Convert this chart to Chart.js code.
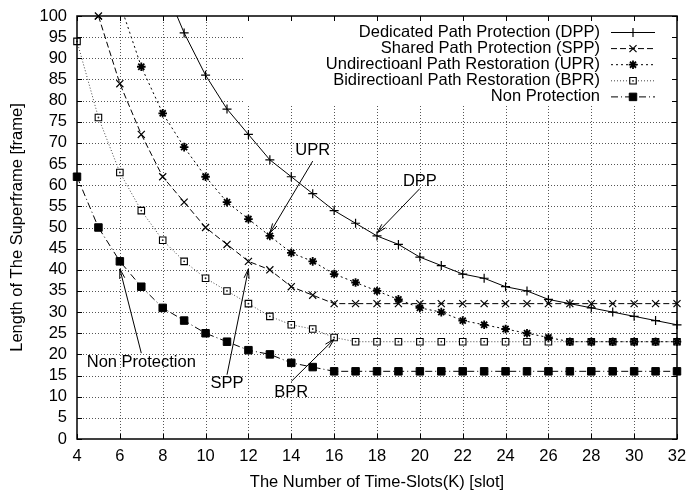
<!DOCTYPE html>
<html>
<head>
<meta charset="utf-8">
<script src="https://cdn.jsdelivr.net/npm/chart.js@4.4.1/dist/chart.umd.min.js"></script>
<style>
html,body{margin:0;padding:0;background:#fff;}
#wrap{width:689px;height:495px;position:relative;}
</style>
</head>
<body>
<div id="wrap"><canvas id="c" width="689" height="495"></canvas></div>
<script>
// ---- data ----
const K = [4,5,6,7,8,9,10,11,12,13,14,15,16,17,18,19,20,21,22,23,24,25,26,27,28,29,30,31,32];
const DPP = [null,null,null,null,108,96,86,78,72,66,62,58,54,51,48,46,43,41,39,38,36,35,33,32,31,30,29,28,27];
const SPP = [125,100,84,72,62,56,50,46,42,40,36,34,32,32,32,32,32,32,32,32,32,32,32,32,32,32,32,32,32];
const UPR = [null,null,103,88,77,69,62,56,52,48,44,42,39,37,35,33,31,30,28,27,26,25,24,23,23,23,23,23,23];
const BPR = [94,76,63,54,47,42,38,35,32,29,27,26,24,23,23,23,23,23,23,23,23,23,23,23,23,23,23,23,23];
const NONP = [62,50,42,36,31,28,25,23,21,20,18,17,16,16,16,16,16,16,16,16,16,16,16,16,16,16,16,16,16];
const SERIES_LABELS = [
  'Dedicated Path Protection (DPP)',
  'Shared Path Protection (SPP)',
  'Undirectioanl Path Restoration (UPR)',
  'Bidirectioanl Path Restoration (BPR)',
  'Non Protection'
];
const X_TITLE = 'The Number of Time-Slots(K) [slot]';
const Y_TITLE = 'Length of The Superframe [frame]';
const X_MIN = 4, X_MAX = 32, X_STEP = 2;
const Y_MIN = 0, Y_MAX = 100, Y_STEP = 5;
// annotation labels with arrows (label text, label position, arrow tail, arrow tip) in data units
const NOTE_TEXT = ['UPR','DPP','Non Protection','SPP','BPR'];
const NOTE_POS  = [[15,68.2],[20,61],[7,18],[11,13.1],[14,11.1]];
const NOTE_TAIL = [[15,65.7],[20,59.2],[7,20.3],[11,15.2],[14,13.6]];
const NOTE_TIP  = [[13,48.7],[18,48.7],[6,40.2],[12,40.2],[16,23.6]];

// ---- styling ----
const FONT = '"Liberation Sans", Arial, Helvetica, sans-serif';
const FS = 16.5;
Chart.defaults.font.family = FONT;
Chart.defaults.font.size = FS;
Chart.defaults.color = '#000';

const toXY = arr => K.map((k,i) => ({x:k, y:arr[i]}));
const STYLES = [
  {dash:[],        color:'#000', pointStyle:'cross',    r:4.5, bg:'#000', bw:1.2, dot:false},
  {dash:[6,3],     color:'#000', pointStyle:'crossRot', r:5,   bg:'#000', bw:1.2, dot:false},
  {dash:[2,3],     color:'#000', pointStyle:'star',     r:4.3, bg:'#000', bw:1.8, dot:false},
  {dash:[1,2],     color:'#444', pointStyle:'rect',     r:4.6, bg:'#fff', bw:1.1, dot:true},
  {dash:[7,3,1,3], color:'#000', pointStyle:'rect',     r:5.3, bg:'#000', bw:1,   dot:false}
];
const SERIES = [DPP, SPP, UPR, BPR, NONP];
const datasets = SERIES.map((arr, i) => ({
  label: SERIES_LABELS[i],
  data: toXY(arr),
  borderColor: STYLES[i].color,
  borderWidth: 1,
  borderDash: STYLES[i].dash,
  pointStyle: STYLES[i].pointStyle,
  pointRadius: STYLES[i].r,
  pointHoverRadius: STYLES[i].r,
  pointBackgroundColor: STYLES[i].bg,
  pointBorderColor: '#000',
  pointBorderWidth: STYLES[i].bw,
  tension: 0,
  fill: false,
  clip: {left: 10, right: 10, top: 0, bottom: 10}
}));

function centerDot(ctx, x, y) {
  ctx.save();
  ctx.fillStyle = '#222';
  ctx.beginPath();
  ctx.arc(x, y, 0.9, 0, Math.PI * 2);
  ctx.fill();
  ctx.restore();
}

function drawMarker(ctx, st, x, y) {
  ctx.save();
  ctx.setLineDash([]);
  ctx.lineWidth = st.bw;
  ctx.strokeStyle = '#000';
  ctx.fillStyle = st.bg;
  if (Chart.helpers && Chart.helpers.drawPoint) {
    Chart.helpers.drawPoint(ctx, {pointStyle: st.pointStyle, radius: st.r, rotation: 0, borderWidth: st.bw}, x, y);
  }
  ctx.restore();
  if (st.dot) centerDot(ctx, x, y);
}

const gnuplotFrame = {
  id: 'gnuplotFrame',
  beforeDatasetsDraw(chart) {
    const {ctx, chartArea: a, scales: {x, y}} = chart;
    ctx.save();
    ctx.strokeStyle = '#555';
    ctx.lineWidth = 1;
    ctx.setLineDash([1,2]);
    x.ticks.forEach(t => {
      const px = Math.round(x.getPixelForValue(t.value)) + 0.5;
      if (px <= a.left + 2 || px >= a.right - 2) return;
      ctx.beginPath(); ctx.moveTo(px, a.top); ctx.lineTo(px, a.bottom); ctx.stroke();
    });
    y.ticks.forEach(t => {
      const py = Math.round(y.getPixelForValue(t.value)) + 0.5;
      if (py <= a.top + 2 || py >= a.bottom - 2) return;
      ctx.beginPath(); ctx.moveTo(a.left, py); ctx.lineTo(a.right, py); ctx.stroke();
    });
    ctx.setLineDash([]);
    // key area is kept clear of grid
    ctx.fillStyle = '#fff';
    ctx.fillRect(a.right - 434, a.top, 434, 90);
    ctx.restore();
  },
  afterDatasetsDraw(chart) {
    const {ctx, chartArea: a, scales: {x, y}} = chart;
    chart.data.datasets.forEach((ds, i) => {
      const meta = chart.getDatasetMeta(i);
      meta.data.forEach((pt, j) => {
        const v = ds.data[j].y;
        if (v === null || v > Y_MAX) return;
        // points on the top edge redrawn unclipped
        if (v === Y_MAX) pt.draw(ctx);
        if (STYLES[i].dot) centerDot(ctx, pt.x, pt.y);
      });
    });
    ctx.save();
    // border
    ctx.setLineDash([]);
    ctx.strokeStyle = '#000';
    ctx.lineWidth = 1.5;
    ctx.strokeRect(a.left, a.top, a.right - a.left, a.bottom - a.top);
    // inward ticks on all sides
    ctx.lineWidth = 1;
    const TL = 5;
    x.ticks.forEach(t => {
      const px = Math.round(x.getPixelForValue(t.value)) + 0.5;
      ctx.beginPath();
      ctx.moveTo(px, a.bottom); ctx.lineTo(px, a.bottom - TL);
      ctx.moveTo(px, a.top); ctx.lineTo(px, a.top + TL);
      ctx.stroke();
    });
    y.ticks.forEach(t => {
      const py = Math.round(y.getPixelForValue(t.value)) + 0.5;
      ctx.beginPath();
      ctx.moveTo(a.left, py); ctx.lineTo(a.left + TL, py);
      ctx.moveTo(a.right, py); ctx.lineTo(a.right - TL, py);
      ctx.stroke();
    });
    // key
    ctx.font = FS + 'px ' + FONT;
    ctx.fillStyle = '#000';
    ctx.textAlign = 'right';
    ctx.textBaseline = 'middle';
    chart.data.datasets.forEach((ds, i) => {
      const ry = a.top + 16 + i * 16.1;
      ctx.fillStyle = '#000';
      ctx.fillText(ds.label, a.right - 77, ry);
      ctx.save();
      ctx.strokeStyle = STYLES[i].color;
      ctx.lineWidth = 1;
      ctx.setLineDash(STYLES[i].dash);
      ctx.beginPath();
      ctx.moveTo(a.right - 66, ry + 0.5); ctx.lineTo(a.right - 22, ry + 0.5);
      ctx.stroke();
      ctx.restore();
      drawMarker(ctx, STYLES[i], a.right - 44, ry + 0.5);
    });
    // annotations
    ctx.textAlign = 'center';
    ctx.fillStyle = '#000';
    ctx.strokeStyle = '#000';
    ctx.lineWidth = 1;
    ctx.setLineDash([]);
    NOTE_TEXT.forEach((txt, i) => {
      const lx = x.getPixelForValue(NOTE_POS[i][0]), ly = y.getPixelForValue(NOTE_POS[i][1]);
      const tx = x.getPixelForValue(NOTE_TAIL[i][0]), ty = y.getPixelForValue(NOTE_TAIL[i][1]);
      const hx = x.getPixelForValue(NOTE_TIP[i][0]), hy = y.getPixelForValue(NOTE_TIP[i][1]);
      ctx.fillText(txt, lx, ly);
      ctx.beginPath(); ctx.moveTo(tx, ty); ctx.lineTo(hx, hy); ctx.stroke();
      const ang = Math.atan2(hy - ty, hx - tx);
      const L = 10, S = 0.26;
      ctx.beginPath();
      ctx.moveTo(hx - L * Math.cos(ang - S), hy - L * Math.sin(ang - S));
      ctx.lineTo(hx, hy);
      ctx.lineTo(hx - L * Math.cos(ang + S), hy - L * Math.sin(ang + S));
      ctx.stroke();
    });
    ctx.restore();
  }
};

new Chart(document.getElementById('c'), {
  type: 'line',
  data: { datasets },
  options: {
    responsive: false,
    animation: false,
    devicePixelRatio: 1,
    layout: { padding: { left: 0, right: 12, top: 16, bottom: 0 } },
    plugins: { legend: { display: false }, tooltip: { enabled: false } },
    elements: { line: { tension: 0 } },
    scales: {
      x: {
        type: 'linear', min: X_MIN, max: X_MAX,
        ticks: { stepSize: X_STEP, padding: 8, color: '#000', font: {size: FS}, maxRotation: 0, autoSkip: false },
        grid: { display: false, drawTicks: false },
        border: { display: false },
        title: { display: true, text: X_TITLE, color: '#000', font: {size: FS}, padding: {top: 0, bottom: 3} },
        afterFit(s) { s.height = 56; s.paddingLeft = 0; s.paddingRight = 0; }
      },
      y: {
        type: 'linear', min: Y_MIN, max: Y_MAX,
        ticks: { stepSize: Y_STEP, padding: 10, color: '#000', font: {size: FS}, autoSkip: false },
        grid: { display: false, drawTicks: false },
        border: { display: false },
        title: { display: true, text: Y_TITLE, color: '#000', font: {size: FS}, padding: {top: 8, bottom: 0} },
        afterFit(s) { s.width = 77; s.paddingTop = 0; s.paddingBottom = 0; }
      }
    }
  },
  plugins: [gnuplotFrame]
});
</script>
</body>
</html>
